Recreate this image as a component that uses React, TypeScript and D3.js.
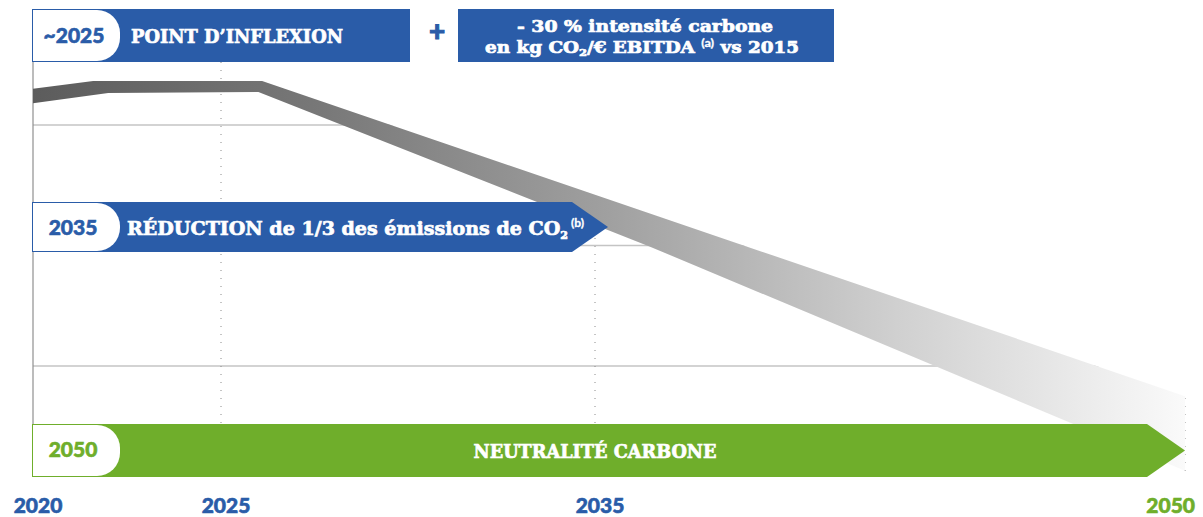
import React from 'react';
import * as d3 from 'd3';

// ---- data ----
const axisYears = [2020, 2025, 2035, 2050];
const axisLabels = ['2020', '2025', '2035', '2050'];
const gridValues = [100, 200, 300];
// emission trajectory band (upper & lower bound, index)
const upperYears = [2020, 2021.6, 2026.1, 2050];
const upperValues = [330, 336.5, 336.5, 75];
const lowerYears = [2020, 2022.0, 2026.0, 2036.4, 2050];
const lowerValues = [318, 326.6, 327.4, 199, 13];
const milestoneYears = ['~2025', '2035', '2050'];
const milestoneTitles = ['POINT D\u2019INFLEXION', 'R\u00c9DUCTION de 1/3 des \u00e9missions de CO', 'NEUTRALIT\u00c9 CARBONE'];
const intensityLines = ['- 30 % intensit\u00e9 carbone', 'en kg CO', '/\u20ac EBITDA ', '(a)', ' vs 2015'];

const W = 1203;
const H = 517;
const BLUE = '#2a5ca8';
const GREEN = '#6fae2b';
const NUM_FONT = 'Lato, "Open Sans", sans-serif';
const SLAB_FONT = '"DejaVu Serif", "DejaVu Serif Condensed", "Liberation Serif", serif';
const SLAB_STROKE = 0.7;
const NUM_STROKE = 0.6;

const x = d3.scaleLinear().domain(axisYears).range([33, 221, 595, 1185]);
const y = d3.scaleLinear().domain([0, 300]).range([486.5, 125]);
const TOP = 62;
const BOTTOM = 477;

function pillPath(x0: number, y0: number, y1: number, xr: number, r: number) {
  return `M${x0},${y0} H${xr - r} A${r},${r} 0 0 1 ${xr},${y0 + r} V${y1 - r} A${r},${r} 0 0 1 ${xr - r},${y1} H${x0} Z`;
}

export default function App() {
  const upperPts: [number, number][] = upperYears.map((yr, i) => [x(yr), y(upperValues[i])]);
  const lowerPts: [number, number][] = lowerYears.map((yr, i) => [x(yr), y(lowerValues[i])]);
  const line = d3.line();
  const bandPath =
    line(upperPts)! + 'L' + lowerPts.slice().reverse().map((p) => p.join(',')).join('L') + 'Z';

  // white mask above the descending part of the band
  const kink = upperPts.length - 2;
  const maskPts: [number, number][] = [
    [upperPts[kink][0], TOP],
    ...upperPts.slice(kink),
    [W, upperPts[upperPts.length - 1][1]],
    [W, TOP],
  ];

  const bannerTop = [9, 202, 424];
  const bannerBot = [62, 252, 477];
  const slab = {
    fill: '#fff',
    fontFamily: SLAB_FONT,
    fontWeight: 'bold' as const,
    stroke: '#fff',
    strokeWidth: SLAB_STROKE,
    lengthAdjust: 'spacingAndGlyphs',
  };
  const num = (color: string) => ({
    fill: color,
    stroke: color,
    strokeWidth: NUM_STROKE,
    fontFamily: NUM_FONT,
    fontWeight: 900,
    fontSize: 21,
  });

  return (
    <svg width={W} height={H} style={{ position: 'absolute', left: 0, top: 0, background: '#fff' }}>
      <defs>
        <linearGradient id="bandGrad" gradientUnits="userSpaceOnUse" x1={x(2020)} x2={x(2050)} y1={0} y2={0}>
          <stop offset="0" stopColor="#5c5c5c" />
          <stop offset="0.25" stopColor="#787878" />
          <stop offset="0.5" stopColor="#a0a0a0" />
          <stop offset="0.75" stopColor="#d0d0d0" />
          <stop offset="1" stopColor="#fafafa" />
        </linearGradient>
      </defs>

      {/* grid lines */}
      {gridValues.map((v) => (
        <line key={v} x1={x(2020)} x2={x(2050)} y1={y(v)} y2={y(v)} stroke="#c4c4c4" strokeWidth={1.3} />
      ))}
      {/* dotted verticals */}
      {axisYears.slice(1).map((yr) => (
        <line key={yr} x1={x(yr)} x2={x(yr)} y1={TOP} y2={BOTTOM} stroke="#8a8a8a" strokeWidth={1} strokeDasharray="1 7" />
      ))}
      <path d={line(maskPts)! + 'Z'} fill="#fff" />
      {/* left axis */}
      <line x1={x(2020)} x2={x(2020)} y1={TOP} y2={BOTTOM} stroke="#8f8f8f" strokeWidth={1.2} />

      {/* band */}
      <path d={bandPath} fill="url(#bandGrad)" />

      {/* banner 1 : ~2025 */}
      <rect x={32} y={bannerTop[0]} width={378} height={bannerBot[0] - bannerTop[0]} fill={BLUE} />
      <path d={pillPath(33, bannerTop[0] + 1, bannerBot[0] - 1, 120, 23)} fill="#fff" />
      <text x={74} y={43} textAnchor="middle" {...num(BLUE)}>
        {milestoneYears[0]}
      </text>
      <text x={131} y={43} {...slab} fontSize={19} textLength={212}>
        {milestoneTitles[0]}
      </text>

      {/* plus */}
      <text x={437} y={41} textAnchor="middle" fill={BLUE} stroke={BLUE} strokeWidth={1} fontFamily={NUM_FONT} fontWeight={900} fontSize={28}>
        +
      </text>

      {/* banner 2 : intensity */}
      <rect x={458} y={bannerTop[0]} width={376} height={bannerBot[0] - bannerTop[0]} fill={BLUE} />
      <text x={645} y={32} textAnchor="middle" {...slab} fontSize={16} textLength={256}>
        {intensityLines[0]}
      </text>
      <text x={485} y={53} {...slab} fontSize={16} textLength={314}>
        <tspan>{intensityLines[1]}</tspan>
        <tspan fontSize={10} dy={3}>2</tspan>
        <tspan dy={-3}>{intensityLines[2]}</tspan>
        <tspan fontSize={11} dy={-6} fontFamily={NUM_FONT} strokeWidth={0.3}>{intensityLines[3]}</tspan>
        <tspan dy={6}>{intensityLines[4]}</tspan>
      </text>

      {/* banner 3 : 2035 */}
      <path
        d={`M32,${bannerTop[1]} H572 L608,${(bannerTop[1] + bannerBot[1]) / 2} L572,${bannerBot[1]} H32 Z`}
        fill={BLUE}
      />
      <path d={pillPath(33, bannerTop[1] + 1, bannerBot[1] - 1, 120, 23)} fill="#fff" />
      <text x={73} y={235} textAnchor="middle" {...num(BLUE)}>
        {milestoneYears[1]}
      </text>
      <text x={127} y={235} {...slab} fontSize={19} textLength={457}>
        <tspan>{milestoneTitles[1]}</tspan>
        <tspan fontSize={11} dy={4}>2</tspan>
        <tspan fontSize={12} dy={-12} fontFamily={NUM_FONT} strokeWidth={0.3}> (b)</tspan>
      </text>

      {/* banner 4 : 2050 */}
      <path
        d={`M32,${bannerTop[2]} H1147 L${x(2050)},${(bannerTop[2] + bannerBot[2]) / 2} L1147,${bannerBot[2]} H32 Z`}
        fill={GREEN}
      />
      <path d={pillPath(33, bannerTop[2] + 1, bannerBot[2] - 1, 120, 23)} fill="#fff" />
      <text x={73} y={457} textAnchor="middle" {...num(GREEN)}>
        {milestoneYears[2]}
      </text>
      <text x={595} y={458} textAnchor="middle" {...slab} fontSize={19} textLength={243}>
        {milestoneTitles[2]}
      </text>

      {/* x axis labels */}
      {axisYears.map((yr, i) => {
        const last = i === axisYears.length - 1;
        return (
          <text
            key={yr}
            x={last ? W - 8 : x(yr) + 5}
            y={513}
            textAnchor={last ? 'end' : 'middle'}
            {...num(last ? GREEN : BLUE)}
          >
            {axisLabels[i]}
          </text>
        );
      })}
    </svg>
  );
}
